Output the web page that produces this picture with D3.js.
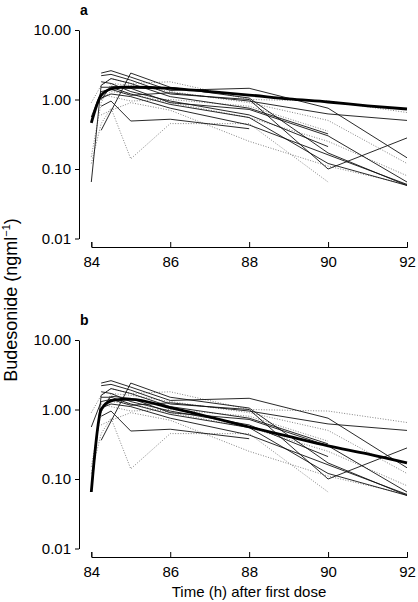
<!DOCTYPE html>
<html>
<head>
<meta charset="utf-8">
<script src="https://cdn.jsdelivr.net/npm/d3@7"></script>
<style>
  html, body { margin: 0; padding: 0; background: #fff; }
  svg { display: block; font-family: "Liberation Sans", Arial, Helvetica, sans-serif; }
</style>
</head>
<body>
<svg id="chart" width="418" height="602"></svg>
<script>
// ---------------- data ----------------
const panelLabels = ["a", "b"];
const times = [84, 84.25, 84.5, 85, 86, 88, 90, 92];

// individual subjects, solid lines (null = no sample)
const solidS1 = [null, 2.4, 2.6, 2.1, 1.35, 1.45, 0.75, 0.145];
const solidS2 = [null, 2.2, 2.3, 1.9, 1.2, 1.0, 0.10, 0.28];
const solidS3 = [0.065, 1.6, 2.0, 1.7, 1.1, 0.75, 0.32, null];
const solidS4 = [null, 1.8, 1.7, 1.3, 0.95, 0.6, 0.21, null];
const solidS5 = [null, 0.8, 0.95, 0.49, 0.52, 0.38, null, null];
const solidS6 = [null, 0.36, null, 2.4, 1.5, 1.05, 0.17, 0.058];
const solidS7 = [null, 1.5, 1.5, 1.2, 0.85, 0.55, 0.12, 0.058];
const solidS8 = [0.56, 1.3, 1.4, 1.15, 1.25, 0.95, 0.62, 0.5];
const solidS9 = [null, 1.0, 1.55, 1.45, 0.9, 0.72, 0.3, 0.065];
const solidS10 = [null, 1.05, 1.2, 1.1, 0.75, 0.43, 0.16, 0.06];
const solidSubjects = [solidS1, solidS2, solidS3, solidS4, solidS5, solidS6, solidS7, solidS8, solidS9, solidS10];

// individual subjects, dotted lines
const dottedD1 = [0.12, 0.45, 0.75, 0.14, 0.45, 0.45, 0.065, null];
const dottedD2 = [0.9, 1.6, 2.0, 1.7, 1.8, 1.0, 0.95, 0.65];
const dottedD3 = [null, 1.2, 1.1, 0.95, 1.0, 0.8, 0.35, null];
const dottedD4 = [null, 1.0, 1.3, 1.2, 0.9, 0.55, 0.25, 0.08];
const dottedD5 = [null, 0.6, 0.7, 0.9, 0.7, 0.25, 0.11, 0.06];
const dottedD6 = [0.15, 0.9, 1.7, 1.6, 1.3, 0.9, 0.5, 0.12];
const dottedSubjects = [dottedD1, dottedD2, dottedD3, dottedD4, dottedD5, dottedD6];

// model fits (thick lines)
const fitTimes = [84, 84.25, 84.5, 84.75, 85, 86, 87, 88, 89, 90, 91, 92];
const fitA = [0.46, 1.15, 1.42, 1.5, 1.5, 1.45, 1.3, 1.16, 1.02, 0.92, 0.81, 0.73];
const fitB = [0.065, 1.0, 1.33, 1.4, 1.4, 1.06, 0.78, 0.56, 0.41, 0.3, 0.23, 0.17];
const fits = [fitA, fitB];

const xTicks = [84, 86, 88, 90, 92];
const yTicks = [0.01, 0.1, 1, 10];

// ---------------- drawing ----------------
const svg = d3.select("#chart");
const x = d3.scaleLinear().domain([84, 92]).range([91.3, 407]);
const panelTops = [30, 340];

panelLabels.forEach((lab, i) => {
  const top = panelTops[i];
  const y = d3.scaleLog().domain([0.01, 10]).range([top + 208.5, top]);
  const g = svg.append("g");

  // y axis
  g.append("g")
    .attr("transform", "translate(79,0)")
    .call(d3.axisLeft(y).tickValues(yTicks).tickFormat(d3.format(".2f"))
      .tickSizeInner(4).tickSizeOuter(0).tickPadding(4))
    .call(a => a.selectAll("text").style("font-size", "15px").attr("fill", "#000"))
    .call(a => a.selectAll("line,path").attr("stroke", "#000"));

  // x axis
  g.append("g")
    .attr("transform", `translate(0,${top + 217})`)
    .call(d3.axisBottom(x).tickValues(xTicks).tickFormat(d3.format("d"))
      .tickSizeInner(-5).tickSizeOuter(-5).tickPadding(9))
    .call(a => a.selectAll("text").style("font-size", "15px").attr("fill", "#000"))
    .call(a => a.selectAll("line,path").attr("stroke", "#000"));

  // panel label
  g.append("text").attr("x", 80).attr("y", top - 15)
    .style("font-size", "14px").style("font-weight", "bold").text(lab);

  const line = d3.line()
    .defined(d => d[1] != null)
    .x(d => x(d[0])).y(d => y(d[1]));

  const toPts = arr => times.map((t, k) => [t, arr[k]]).filter(d => d[1] != null);

  dottedSubjects.forEach(s => {
    g.append("path").attr("d", line(toPts(s)))
      .attr("fill", "none").attr("stroke", "#777")
      .attr("stroke-width", 0.9).attr("stroke-dasharray", "1,1.6");
  });
  solidSubjects.forEach(s => {
    g.append("path").attr("d", line(toPts(s)))
      .attr("fill", "none").attr("stroke", "#111")
      .attr("stroke-width", 0.9);
  });

  const fitLine = d3.line().curve(d3.curveMonotoneX)
    .x(d => x(d[0])).y(d => y(d[1]));
  g.append("path")
    .attr("d", fitLine(fitTimes.map((t, k) => [t, fits[i][k]])))
    .attr("fill", "none").attr("stroke", "#000").attr("stroke-width", 2.8);
});

// y label
const yl = svg.append("text")
  .attr("transform", "translate(17,300) rotate(-90)")
  .attr("text-anchor", "middle")
  .style("font-size", "18px");
yl.append("tspan").text("Budesonide (ngml");
yl.append("tspan").attr("dy", -7).style("font-size", "11px").text("−1");
yl.append("tspan").attr("dy", 7).text(")");

// x label
svg.append("text")
  .attr("x", 249).attr("y", 597)
  .attr("text-anchor", "middle")
  .style("font-size", "15px")
  .text("Time (h) after first dose");
</script>
</body>
</html>
